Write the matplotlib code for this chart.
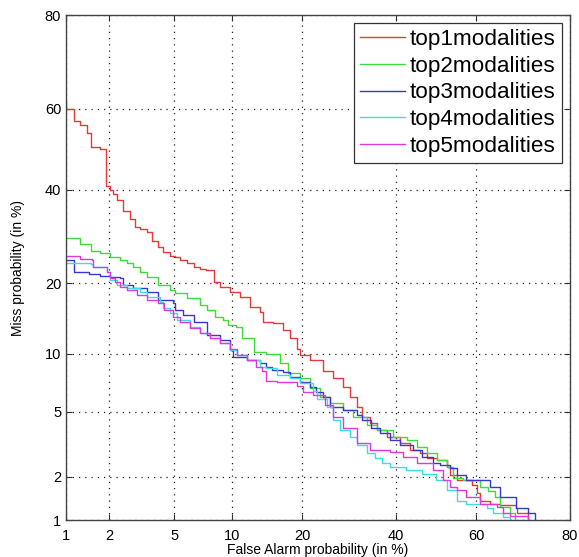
import math
import numpy as np
import matplotlib
matplotlib.use("Agg")
import matplotlib.pyplot as plt
from matplotlib.ticker import FixedLocator, FixedFormatter

plt.rcParams['font.family'] = ['Liberation Sans', 'DejaVu Sans']

# DET curves, false alarm (%) vs miss (%)
fa_top1 = [1.0, 1.0, 1.14, 1.26, 1.41, 1.51, 1.73, 1.9, 2.02, 2.1, 2.23, 2.45, 2.72, 2.92, 3.14, 3.46, 3.73,
           4.0, 4.3, 4.73, 5.04, 5.38, 5.9, 6.4, 6.9, 7.45, 8.1, 8.72, 9.77, 10.9, 12.1, 13.4, 13.8, 15.3,
           16.8, 17.9, 19.1, 19.6, 21.4, 23.9, 25.8, 27.9, 29.4, 30.9, 32.2, 33.9, 35.5, 37.9, 41.0, 43.5,
           46.0, 47.7, 50.2, 52.7, 53.5, 55.2, 59.0, 60.2, 60.9, 63.3, 65.6, 69.3, 69.5, 71.8, 71.8]
miss_top1 = [61.7, 60.0, 57.0, 56.0, 54.0, 50.6, 50.0, 40.8, 40.0, 39.0, 37.5, 35.0, 33.0, 31.2, 30.8, 30.2,
             28.2, 27.0, 25.9, 25.1, 24.9, 24.3, 23.8, 23.0, 22.6, 22.4, 20.3, 19.4, 18.5, 17.7, 16.2, 15.4,
             14.0, 13.8, 12.8, 11.8, 10.5, 9.8, 9.3, 8.2, 7.55, 6.8, 6.0, 5.3, 4.65, 4.3, 3.9, 3.55, 3.26,
             2.95, 2.83, 2.63, 2.55, 2.3, 2.04, 1.89, 1.76, 1.55, 1.38, 1.31, 1.28, 1.22, 1.12, 1.05, 1.0]

fa_top2 = [1.0, 1.26, 1.51, 1.73, 2.02, 2.35, 2.6, 2.85, 3.14, 3.46, 4.0, 4.73, 5.04, 5.9, 6.9, 7.5, 8.23,
           9.0, 9.6, 10.4, 11.1, 12.6, 14.3, 16.3, 17.6, 19.6, 21.4, 23.3, 25.2, 27.9, 30.0, 33.2, 35.5,
           39.3, 42.8, 45.2, 47.7, 50.2, 52.7, 54.2, 56.7, 60.9, 62.8, 64.4, 65.6, 67.9, 69.0, 69.0]
miss_top2 = [28.9, 27.6, 26.2, 25.7, 24.9, 24.4, 23.8, 23.0, 22.0, 21.1, 19.7, 18.8, 18.3, 17.5, 16.4, 15.6,
             14.6, 14.2, 13.5, 13.3, 11.8, 10.2, 10.0, 9.0, 8.0, 7.55, 6.7, 6.0, 5.6, 5.08, 4.65, 4.17, 3.9,
             3.55, 3.4, 3.1, 2.83, 2.55, 2.3, 1.95, 1.89, 1.7, 1.6, 1.45, 1.24, 1.12, 1.05, 1.0]

fa_top3 = [1.0, 1.14, 1.45, 1.73, 2.02, 2.35, 2.45, 2.85, 3.46, 4.0, 4.9, 5.04, 5.6, 6.4, 7.5, 8.72, 9.77,
           10.1, 11.7, 13.4, 14.3, 15.1, 16.8, 17.9, 19.6, 21.4, 22.5, 23.9, 25.2, 27.9, 30.9, 32.2, 34.2,
           36.2, 38.6, 41.0, 44.2, 46.5, 49.2, 51.0, 53.5, 55.2, 57.5, 63.3, 65.6, 69.3, 71.8, 73.4]
miss_top3 = [24.3, 22.0, 21.7, 21.4, 21.1, 20.9, 19.7, 19.2, 18.5, 17.2, 16.7, 15.6, 14.9, 14.0, 12.2, 11.6,
             10.4, 9.6, 9.3, 9.0, 8.65, 8.3, 8.15, 7.7, 7.2, 6.8, 6.4, 6.0, 5.3, 5.08, 4.77, 4.46, 4.05,
             3.75, 3.4, 3.17, 2.95, 2.67, 2.45, 2.4, 2.28, 2.04, 1.89, 1.7, 1.46, 1.22, 1.12, 1.0]

fa_top4 = [1.0, 1.51, 1.55, 1.93, 2.02, 2.25, 2.6, 3.14, 3.46, 4.14, 4.3, 4.73, 5.2, 6.1, 6.9, 7.76, 8.72,
           9.77, 10.5, 11.7, 13.4, 14.3, 15.9, 17.9, 19.6, 22.0, 22.7, 24.6, 25.8, 27.3, 29.4, 30.9, 33.2,
           35.0, 36.7, 38.6, 42.5, 46.5, 50.0, 52.7, 55.2, 57.6, 62.6, 64.0, 66.4, 67.9]
miss_top4 = [23.8, 23.6, 23.0, 22.1, 20.6, 19.7, 19.2, 18.5, 17.7, 16.9, 15.9, 15.2, 14.2, 13.2, 12.4, 11.8,
             11.2, 10.4, 9.83, 9.3, 8.65, 8.5, 7.8, 7.6, 7.1, 6.5, 5.9, 5.3, 4.46, 3.9, 3.55, 3.17, 2.85,
             2.65, 2.45, 2.3, 2.2, 2.1, 1.89, 1.62, 1.38, 1.31, 1.23, 1.12, 1.05, 1.0]

fa_top5 = [1.0, 1.26, 1.53, 1.55, 1.93, 2.02, 2.18, 2.35, 2.6, 3.0, 3.46, 4.0, 4.35, 4.9, 5.38, 6.1, 6.9,
           7.76, 8.72, 9.77, 10.5, 11.7, 12.9, 13.7, 14.3, 15.9, 19.1, 20.2, 22.0, 24.3, 25.8, 27.9, 30.9,
           33.9, 38.6, 41.8, 45.2, 49.2, 51.7, 53.5, 55.2, 57.6, 60.9, 64.9, 66.4, 67.9, 71.8, 71.8]
miss_top5 = [25.1, 24.6, 24.3, 23.0, 22.1, 21.0, 20.2, 19.4, 18.8, 18.0, 17.2, 16.7, 15.6, 14.6, 13.9, 13.1,
             12.4, 11.8, 11.2, 10.5, 9.83, 9.3, 8.6, 8.2, 7.3, 7.2, 6.9, 6.4, 6.14, 5.42, 4.65, 4.0, 3.26,
             2.95, 2.87, 2.67, 2.45, 2.2, 1.89, 1.7, 1.62, 1.45, 1.31, 1.24, 1.12, 1.08, 1.05, 1.0]

labels = ['top1modalities', 'top2modalities', 'top3modalities', 'top4modalities', 'top5modalities']
colors = ['#e8383a', '#3ddc3d', '#3838d0', '#38e0e0', '#e038e0']
tick_values = [1, 2, 5, 10, 20, 40, 60, 80]
tick_labels = ['1', '2', '5', '10', '20', '40', '60', '80']


# normal deviate scale (inverse normal CDF, Acklam's approximation)
def probit(pct):
    p = np.clip(np.asarray(pct, dtype=float) / 100.0, 1e-9, 1 - 1e-9)
    a = [-3.969683028665376e+01, 2.209460984245205e+02, -2.759285104469687e+02,
         1.383577518672690e+02, -3.066479806614716e+01, 2.506628277459239e+00]
    b = [-5.447609879822406e+01, 1.615858368580409e+02, -1.556989798598866e+02,
         6.680131188771972e+01, -1.328068155288572e+01]
    c = [-7.784894002430293e-03, -3.223964580411365e-01, -2.400758277161838e+00,
         -2.549732539343734e+00, 4.374664141464968e+00, 2.938163982698783e+00]
    d = [7.784695709041462e-03, 3.224671290700398e-01, 2.445134137142996e+00,
         3.754408661907416e+00]
    plow = 0.02425
    z = np.empty_like(p)
    lo = p < plow
    hi = p > 1 - plow
    mid = ~(lo | hi)
    q = np.sqrt(-2 * np.log(p[lo]))
    z[lo] = (((((c[0]*q + c[1])*q + c[2])*q + c[3])*q + c[4])*q + c[5]) / \
            ((((d[0]*q + d[1])*q + d[2])*q + d[3])*q + 1)
    q = np.sqrt(-2 * np.log(1 - p[hi]))
    z[hi] = -(((((c[0]*q + c[1])*q + c[2])*q + c[3])*q + c[4])*q + c[5]) / \
             ((((d[0]*q + d[1])*q + d[2])*q + d[3])*q + 1)
    q = p[mid] - 0.5
    r = q * q
    z[mid] = (((((a[0]*r + a[1])*r + a[2])*r + a[3])*r + a[4])*r + a[5]) * q / \
             (((((b[0]*r + b[1])*r + b[2])*r + b[3])*r + b[4])*r + 1)
    return z


_erf = np.vectorize(math.erf)


def inv_probit(z):
    z = np.asarray(z, dtype=float)
    return 50.0 * (1 + _erf(z / math.sqrt(2)))


fig = plt.figure(figsize=(5.79, 5.57), dpi=100)
ax = fig.add_axes([0.114, 0.066, 0.870, 0.907])
ax.set_xscale('function', functions=(probit, inv_probit))
ax.set_yscale('function', functions=(probit, inv_probit))

series = [(fa_top1, miss_top1), (fa_top2, miss_top2), (fa_top3, miss_top3),
          (fa_top4, miss_top4), (fa_top5, miss_top5)]
for (fa, miss), lab, col in zip(series, labels, colors):
    ax.plot(fa, miss, drawstyle='steps-post', color=col, linewidth=1.0, label=lab)

ax.set_xlim(1, 80)
ax.set_ylim(1, 80)
for axis in (ax.xaxis, ax.yaxis):
    axis.set_major_locator(FixedLocator(tick_values))
    axis.set_major_formatter(FixedFormatter(tick_labels))
    axis.set_minor_locator(FixedLocator([]))

ax.tick_params(direction='in', length=4, width=0.8, colors='#333333', labelcolor='black',
               labelsize=10.5, top=True, right=True)
ax.tick_params(axis='x', pad=6)
ax.grid(True, color='#222222', linestyle=(0, (1, 4)), linewidth=0.9)
for s in ax.spines.values():
    s.set_color('#444444')
    s.set_linewidth(1.0)

ax.set_xlabel('False Alarm probability (in %)', fontsize=10, labelpad=0)
ax.set_ylabel('Miss probability (in %)', fontsize=10, labelpad=14)

leg = ax.legend(loc='upper right', fontsize=16.2, handlelength=2.0, handletextpad=0.2,
                borderaxespad=0.35, borderpad=0.28, labelspacing=0.25, fancybox=False,
                framealpha=1)
leg.get_frame().set_edgecolor('#333333')
leg.get_frame().set_linewidth(0.9)

fig.savefig('out.png', dpi=100)
